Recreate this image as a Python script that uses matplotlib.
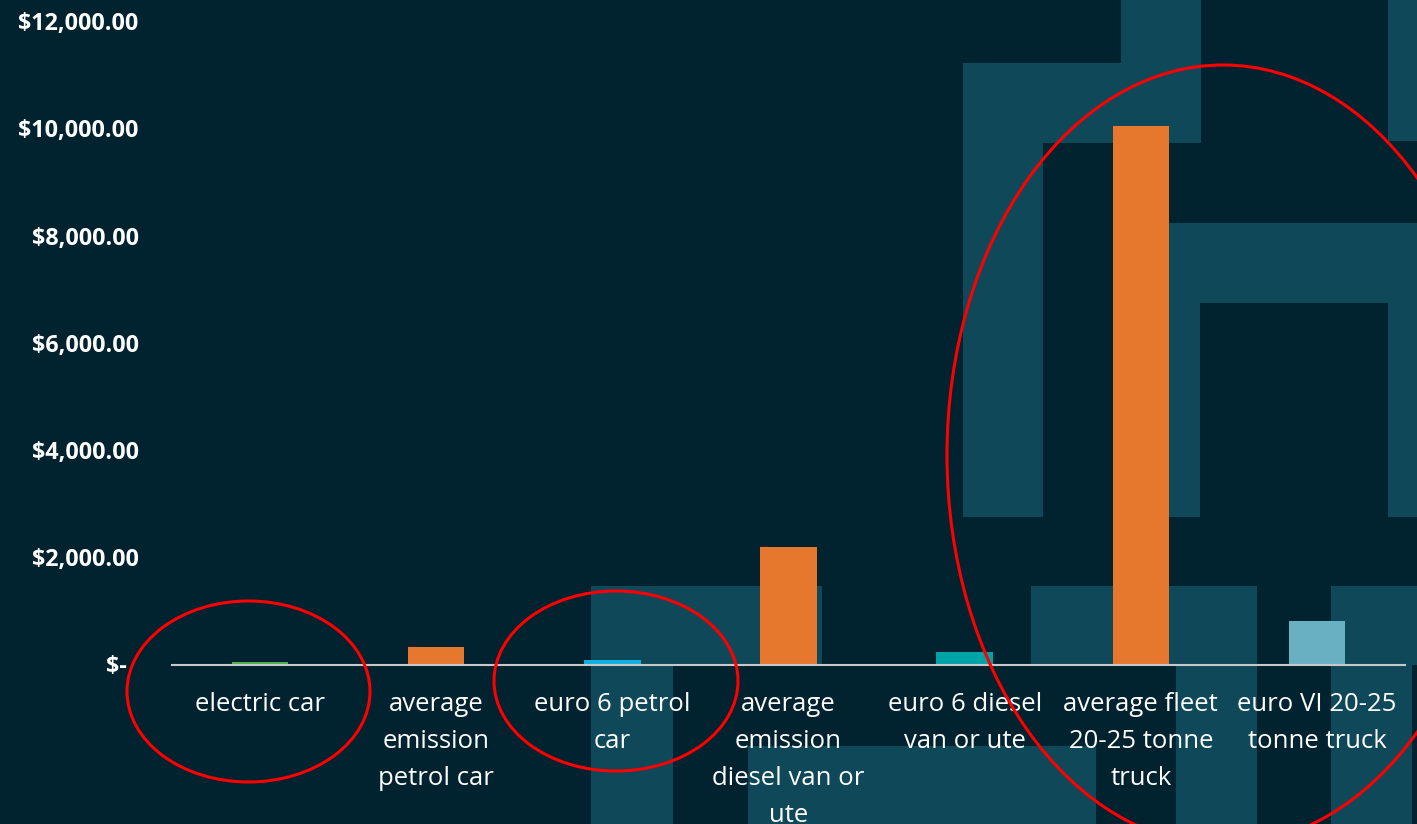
import matplotlib.pyplot as plt
from matplotlib.patches import Rectangle, Ellipse
from matplotlib.ticker import FuncFormatter

# Cost per vehicle type
vehicles = [
    "electric car",
    "average\nemission\npetrol car",
    "euro 6 petrol\ncar",
    "average\nemission\ndiesel van or\nute",
    "euro 6 diesel\nvan or ute",
    "average fleet\n20-25 tonne\ntruck",
    "euro VI 20-25\ntonne truck",
]
costs = [50, 320, 85, 2200, 235, 10040, 810]
bar_colors = ["#4CAF50", "#E5782C", "#12B0E0", "#E5782C", "#00A3A8", "#E5782C", "#69B0C2"]
y_ticks = [0, 2000, 4000, 6000, 8000, 10000, 12000]

W, H = 1417, 824
BG = "#01232F"
BLOCK = "#0F4858"

plt.rcParams["font.family"] = ["Open Sans", "DejaVu Sans"]

fig = plt.figure(figsize=(W / 100, H / 100), dpi=100)
fig.patch.set_facecolor(BG)


def px_rect(x0, y0, x1, y1, **kw):
    # rectangle given in pixel coords (origin top-left)
    return Rectangle((x0 / W, 1 - y1 / H), (x1 - x0) / W, (y1 - y0) / H,
                     transform=fig.transFigure, **kw)


# decorative background blocks
blocks = [
    (1121, 0, 1201, 143), (963, 63, 1201, 143), (963, 63, 1043, 517),
    (1388, 0, 1417, 141), (1121, 223, 1417, 303), (1121, 303, 1200, 517),
    (1388, 303, 1417, 517),
    (591, 586, 822, 665), (591, 665, 673, 824), (748, 746, 1096, 824),
    (1031, 586, 1257, 665), (1176, 665, 1257, 824),
    (1331, 586, 1417, 665), (1331, 665, 1412, 824),
]
for b in blocks:
    fig.add_artist(px_rect(*b, facecolor=BLOCK, edgecolor="none", zorder=-5))

ax = fig.add_axes([172 / W, 1 - 664.5 / H, (1405 - 172) / W, (664.5 - 21) / H])
ax.set_facecolor("none")

x = range(len(vehicles))
ax.bar(x, costs, width=0.32, color=bar_colors, zorder=1)

ax.set_xlim(-0.5, len(vehicles) - 0.5)
ax.set_ylim(0, 12000)
ax.set_yticks(y_ticks)
ax.yaxis.set_major_formatter(FuncFormatter(
    lambda v, _: "$-  " if v == 0 else f"${v:,.2f}"))
ax.set_xticks(list(x))
ax.set_xticklabels(vehicles, fontsize=18.5, color="white", linespacing=1.62)

for lbl in ax.get_yticklabels():
    lbl.set_fontweight("bold")
    lbl.set_fontsize(16.8)
    lbl.set_color("white")

ax.tick_params(axis="x", length=0, pad=20)
ax.tick_params(axis="y", length=0, pad=24)
for side in ["top", "right", "left"]:
    ax.spines[side].set_visible(False)
ax.spines["bottom"].set_color("#C8C8C8")
ax.spines["bottom"].set_linewidth(1.5)

# red highlight ellipses (pixel centre, width, height)
rings = [(248.5, 691.5, 243, 181), (616, 681, 244, 180), (1223, 455, 552, 780)]
for cx, cy, w, h in rings:
    fig.add_artist(Ellipse((cx / W, 1 - cy / H), w / W, h / H,
                           transform=fig.transFigure, fill=False,
                           edgecolor="#FF0000", linewidth=2.2, zorder=10))

fig.savefig("out.png", dpi=100, facecolor=BG)
